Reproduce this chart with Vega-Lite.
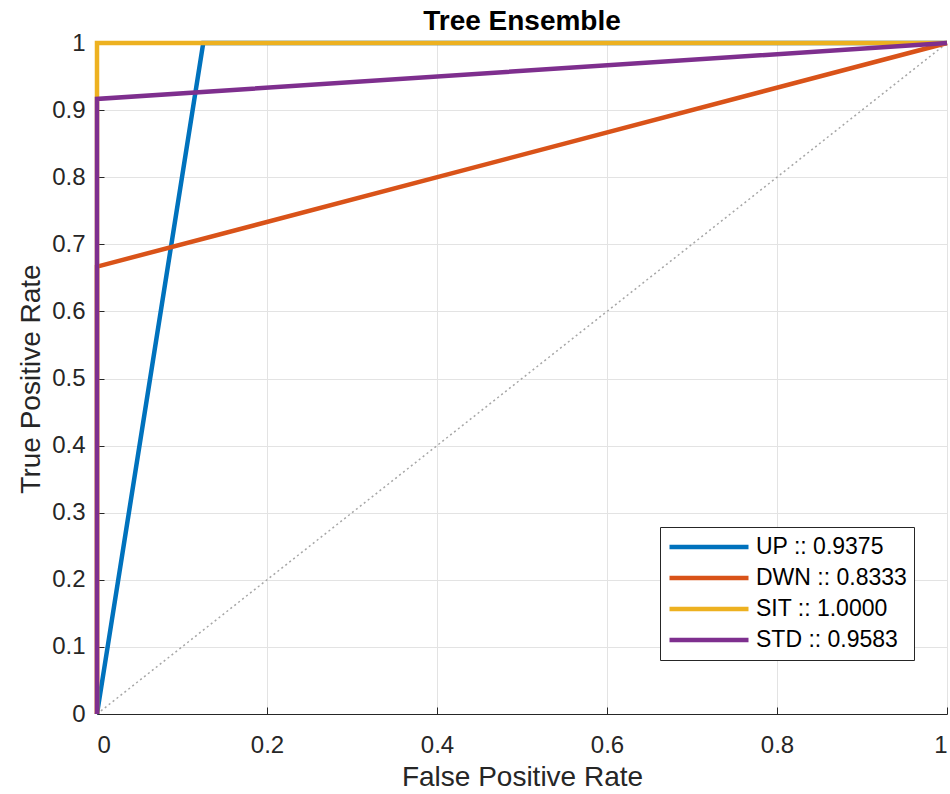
{
  "$schema": "https://vega.github.io/schema/vega-lite/v6.json",
  "width": 850,
  "height": 671,
  "autosize": {"type": "none"},
  "padding": {"left": 97, "top": 43, "right": 3, "bottom": 80},
  "background": "white",
  "config": {
    "font": "Liberation Sans",
    "view": {"stroke": null},
    "axis": {
      "zindex": 0,
      "domainColor": "#262626",
      "domainWidth": 1.2,
      "tickColor": "#262626",
      "tickSize": -7,
      "labelColor": "#262626",
      "labelFont": "Liberation Sans",
      "labelFontSize": 24,
      "titleFont": "Liberation Sans",
      "titleFontSize": 28,
      "titleFontWeight": "normal",
      "titleColor": "#262626",
      "gridColor": "#e3e3e3",
      "gridWidth": 1
    }
  },
  "title": {
    "text": "Tree Ensemble",
    "fontSize": 28,
    "fontWeight": "bold",
    "color": "#000000",
    "anchor": "middle",
    "offset": -5
  },
  "data": {
    "values": [
      {"series": "UP :: 0.9375", "fpr": 0, "tpr": 0, "ord": 0},
      {"series": "UP :: 0.9375", "fpr": 0.125, "tpr": 1, "ord": 1},
      {"series": "UP :: 0.9375", "fpr": 1, "tpr": 1, "ord": 2},
      {"series": "DWN :: 0.8333", "fpr": 0, "tpr": 0, "ord": 0},
      {"series": "DWN :: 0.8333", "fpr": 0, "tpr": 0.6667, "ord": 1},
      {"series": "DWN :: 0.8333", "fpr": 1, "tpr": 1, "ord": 2},
      {"series": "SIT :: 1.0000", "fpr": 0, "tpr": 0, "ord": 0},
      {"series": "SIT :: 1.0000", "fpr": 0, "tpr": 1, "ord": 1},
      {"series": "SIT :: 1.0000", "fpr": 1, "tpr": 1, "ord": 2},
      {"series": "STD :: 0.9583", "fpr": 0, "tpr": 0, "ord": 0},
      {"series": "STD :: 0.9583", "fpr": 0, "tpr": 0.9167, "ord": 1},
      {"series": "STD :: 0.9583", "fpr": 1, "tpr": 1, "ord": 2}
    ]
  },
  "layer": [
    {
      "data": {"values": [{"fpr": 0, "tpr": 0}, {"fpr": 1, "tpr": 1}]},
      "mark": {"type": "line", "color": "#a6a6a6", "strokeWidth": 1.5, "strokeDash": [2, 3]},
      "encoding": {
        "x": {
          "field": "fpr", "type": "quantitative",
          "scale": {"domain": [0, 1], "nice": false},
          "axis": {"title": "False Positive Rate", "values": [0, 0.2, 0.4, 0.6, 0.8, 1], "format": "~g", "labelPadding": 26, "titlePadding": 6, "grid": true}
        },
        "y": {
          "field": "tpr", "type": "quantitative",
          "scale": {"domain": [0, 1], "nice": false},
          "axis": {"title": "True Positive Rate", "values": [0, 0.1, 0.2, 0.3, 0.4, 0.5, 0.6, 0.7, 0.8, 0.9, 1], "format": "~g", "labelPadding": 19, "titlePadding": 6, "grid": true}
        }
      }
    },
    {
      "mark": {"type": "line", "strokeWidth": 4.5, "strokeCap": "butt", "clip": false},
      "encoding": {
        "x": {"field": "fpr", "type": "quantitative"},
        "y": {"field": "tpr", "type": "quantitative"},
        "order": {"field": "ord", "type": "quantitative"},
        "color": {
          "field": "series", "type": "nominal",
          "scale": {
            "domain": ["UP :: 0.9375", "DWN :: 0.8333", "SIT :: 1.0000", "STD :: 0.9583"],
            "range": ["#0072BD", "#D95319", "#EDB120", "#7E2F8E"]
          },
          "legend": {
            "title": null,
            "orient": "none",
            "legendX": 563,
            "legendY": 484,
            "symbolType": "stroke",
            "symbolSize": 6241,
            "symbolStrokeWidth": 4.5,
            "clipHeight": 26,
            "labelFontSize": 23,
            "labelColor": "#000000",
            "labelFont": "Liberation Sans",
            "labelOffset": 5,
            "rowPadding": 5,
            "padding": 7,
            "strokeColor": "#262626",
            "fillColor": "white",
            "labelLimit": 300
          }
        }
      }
    }
  ]
}
